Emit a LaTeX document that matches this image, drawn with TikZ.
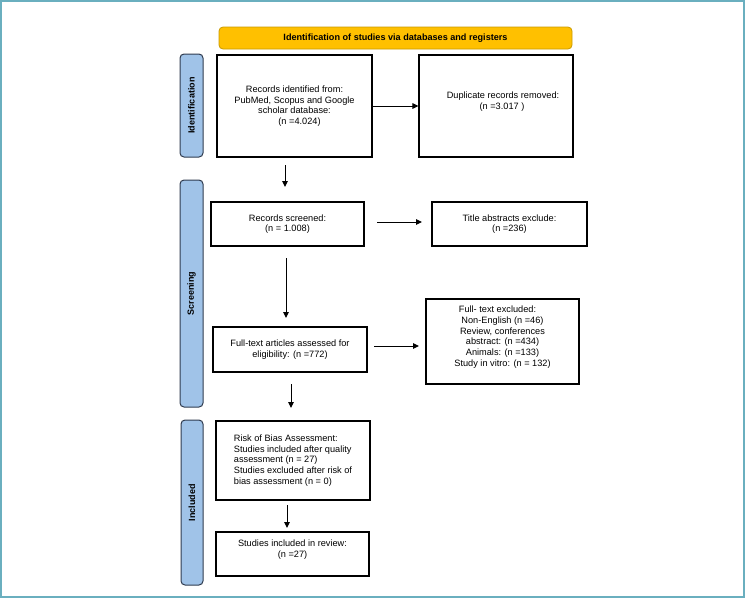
\documentclass[tikz,border=0pt]{standalone}
\usepackage{fontspec}
\setmainfont{Liberation Sans}
\usetikzlibrary{arrows.meta}
\definecolor{frameteal}{HTML}{6AAFBF}
\definecolor{hdrfill}{HTML}{FFC000}
\definecolor{hdrdraw}{HTML}{C99A00}
\definecolor{barfill}{HTML}{A0C3E8}
\definecolor{bardraw}{HTML}{2F3B4F}
\tikzset{
  boxnode/.style={draw=black,line width=1.1pt,fill=white,rectangle,inner sep=0pt,align=center,
    font=\fontsize{9.2}{10.7}\selectfont},
  hdrnode/.style={draw=hdrdraw,fill=hdrfill,line width=0.8pt,rounded corners=4pt,inner sep=0pt,
    font=\bfseries\fontsize{9.1}{10}\selectfont},
  barnode/.style={draw=bardraw,fill=barfill,line width=1pt,rounded corners=4pt,inner sep=0pt},
  barlabel/.style={rotate=90,font=\bfseries\fontsize{9}{10}\selectfont},
  flow/.style={line width=1pt,-{Triangle[length=6pt,width=5.5pt]}}
}
\begin{document}
\begin{tikzpicture}[x=1pt,y=-1pt]
\useasboundingbox (0,0) rectangle (745,598);
\draw[frameteal,line width=1.6pt] (0.8,0.8) rectangle (744.2,597.2);

\node[hdrnode,minimum width=353pt,minimum height=22pt] (hdr) at (395.5,38) {Identification of studies via databases and registers};

\node[barnode,minimum width=23pt,minimum height=103pt] (barid) at (191.5,105.5) {};
\node[barlabel] (barIdText) at (barid.center) {Identification};
\node[barnode,minimum width=23pt,minimum height=227pt] (barsc) at (191.5,293.5) {};
\node[barlabel] (barScText) at (barsc.center) {Screening};
\node[barnode,minimum width=22pt,minimum height=165pt] (barin) at (192,502.5) {};
\node[barlabel] (barInText) at (barin.center) {Included};

\node[boxnode,minimum width=155pt,minimum height=102pt] (b1) at (294.5,106)
  {Records identified from:\\PubMed, Scopus and Google\\scholar database:\\\hspace*{10pt}(n =4.024)};
\node[boxnode,minimum width=154pt,minimum height=102pt] (b2) at (496,106)
  {\hspace*{14pt}Duplicate records removed:\\\hspace*{12pt}(n =3.017 )\\\mbox{}};
\node[boxnode,minimum width=153pt,minimum height=44pt] (b3) at (287.5,224)
  {Records screened:\\(n = 1.008)};
\node[boxnode,minimum width=155pt,minimum height=44pt] (b4) at (509.5,224)
  {Title abstracts exclude:\\(n =236)};
\node[boxnode,minimum width=154pt,minimum height=45pt] (b5) at (290,349.5)
  {Full-text articles assessed for\\eligibility: (n =772)};
\node[boxnode,minimum width=153pt,minimum height=85pt] (b6) at (502.5,341.5)
  {Full- text excluded:\hspace*{10pt}\\Non-English (n =46)\\Review, conferences\\abstract: (n =434)\\Animals: (n =133)\\Study in vitro: (n = 132)\\\mbox{}};
\node[boxnode,minimum width=154pt,minimum height=79pt,align=left] (b7) at (293,460.5)
  {Risk of Bias Assessment:\\Studies included after quality\\assessment (n = 27)\\Studies excluded after risk of\\bias assessment (n = 0)};
\node[boxnode,minimum width=153pt,minimum height=44pt] (b8) at (292.5,554)
  {Studies included in review:\\(n =27)\\\mbox{}};

\coordinate (a2s) at (285,165);
\coordinate (a2e) at (285,187);
\coordinate (a3s) at (377,222);
\coordinate (a3e) at (422,222);
\coordinate (a4s) at (286,258);
\coordinate (a4e) at (286,318);
\coordinate (a5s) at (374,346);
\coordinate (a5e) at (419,346);
\coordinate (a6s) at (291,384);
\coordinate (a6e) at (291,408);
\coordinate (a7s) at (287,505);
\coordinate (a7e) at (287,528);

\draw[flow] (b1.east) -- (b2.west);
\draw[flow] (a2s) -- (a2e);
\draw[flow] (a3s) -- (a3e);
\draw[flow] (a4s) -- (a4e);
\draw[flow] (a5s) -- (a5e);
\draw[flow] (a6s) -- (a6e);
\draw[flow] (a7s) -- (a7e);
\end{tikzpicture}
\end{document}
